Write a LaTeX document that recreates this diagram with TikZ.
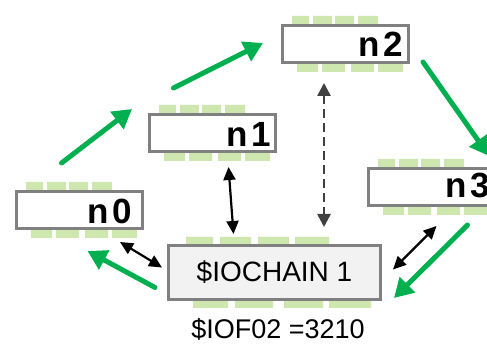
\documentclass[tikz,border=0pt]{standalone}
\usepackage{fontspec}
\setmainfont{Liberation Sans}
\usepackage{tikz}
\usetikzlibrary{arrows.meta}
\definecolor{flowgreen}{HTML}{00B050}
\definecolor{pingreen}{HTML}{CDE7AE}
\definecolor{boxgray}{HTML}{808080}
\definecolor{linkgray}{HTML}{404040}
\definecolor{chainfill}{HTML}{F2F2F2}

\begin{document}
\begin{tikzpicture}[x=1pt,y=-1pt,
  pin/.style={fill=pingreen},
  nodebox/.style={draw=boxgray,line width=2.6pt,fill=white,minimum width=126.4pt,minimum height=37.4pt,inner sep=0pt,anchor=north west},
  chainbox/.style={draw=boxgray,line width=2.6pt,fill=chainfill,minimum width=212.4pt,minimum height=54.4pt,inner sep=0pt,anchor=north west,font=\fontsize{28}{30}\selectfont},
  numlbl/.style={anchor=base west,inner sep=0pt,font=\fontsize{35}{38}\selectfont\bfseries},
  flow/.style={flowgreen,line width=5pt,line cap=round,-{Triangle[length=19pt,width=21pt]}},
  link/.style={black,line width=2.2pt,{Triangle[length=13pt,width=12pt]}-{Triangle[length=13pt,width=12pt]}},
  dlink/.style={linkgray,line width=2.6pt,dash pattern=on 9pt off 5pt,{Triangle[length=13pt,width=13pt]}-{Triangle[length=13pt,width=13pt]}}]
\useasboundingbox (0,0) rectangle (487,344);
\fill[pin] (26,182) rectangle (43,190) (47,182) rectangle (66,190) (69,182) rectangle (88,190) (92,182) rectangle (112,190);
\fill[pin] (31,230) rectangle (52,238) (56,230) rectangle (79,238) (85,230) rectangle (108,238) (112,230) rectangle (137,238);
\fill[pin] (159,105) rectangle (176,113) (180,105) rectangle (199,113) (202,105) rectangle (221,113) (225,105) rectangle (245,113);
\fill[pin] (164,153) rectangle (185,161) (189,153) rectangle (212,161) (218,153) rectangle (241,161) (245,153) rectangle (270,161);
\fill[pin] (292,16) rectangle (309,24) (313,16) rectangle (332,24) (335,16) rectangle (354,24) (358,16) rectangle (378,24);
\fill[pin] (297,64) rectangle (318,72) (322,64) rectangle (345,72) (351,64) rectangle (374,72) (378,64) rectangle (403,72);
\fill[pin] (378,159) rectangle (395,167) (399,159) rectangle (418,167) (421,159) rectangle (440,167) (444,159) rectangle (464,167);
\fill[pin] (383,207) rectangle (404,215) (408,207) rectangle (431,215) (437,207) rectangle (460,215) (464,207) rectangle (489,215);
\fill[pin] (186,237) rectangle (213,244) (220,237) rectangle (251,244) (258,237) rectangle (289,244) (295,237) rectangle (329,244);
\fill[pin] (193,301) rectangle (228,308) (235,301) rectangle (273,308) (284,301) rectangle (323,308) (329,301) rectangle (371,308);
\node[nodebox] (n0) at (15,190) {};
\node[nodebox] (n1) at (148,113) {};
\node[nodebox] (n2) at (281,24) {};
\node[nodebox] (n3) at (367,167) {};
\node[chainbox] (chain) at (167,244) {\$IOCHAIN 1};
\node[numlbl] (n0lbl) at (87,224) {n\kern4pt0};
\node[numlbl] (n1lbl) at (226,147) {n\kern4pt1};
\node[numlbl] (n2lbl) at (358,57) {n\kern4pt2};
\node[numlbl] (n3lbl) at (445,198) {n\kern4pt3};
\node[anchor=base,inner sep=0pt,font=\fontsize{27}{30}\selectfont] (ioflbl) at (278,338) {\$IOF02 =3210};
\draw[flow] ([xshift=-18pt,yshift=27pt]n0.north) -- ([xshift=-16pt,yshift=24pt]n1.west);
\draw[flow] ([xshift=-39pt,yshift=25pt]n1.north) -- ([xshift=-18pt,yshift=1pt]n2.west);
\draw[flow] ([xshift=13pt,yshift=-18pt]n2.east) -- ([xshift=-7pt,yshift=11pt]n3.north east);
\draw[flow] ([xshift=36pt,yshift=-18pt]n3.south) -- ([xshift=12pt,yshift=3pt]chain.south east);
\draw[flow] ([xshift=-12pt,yshift=-15pt]chain.west) -- ([xshift=8pt,yshift=-21pt]n0.south);
\draw[link] ([xshift=-24pt,yshift=-12pt]n0.south east) -- ([xshift=-5pt,yshift=5pt]chain.west);
\draw[link] ([xshift=16pt,yshift=-14pt]n1.south) -- ([xshift=-41pt,yshift=10pt]chain.north);
\draw[link] ([xshift=5pt,yshift=-19pt]n3.south) -- ([xshift=11pt,yshift=3pt]chain.east);
\draw[dlink] ([xshift=-21.5pt,yshift=-19pt]n2.south) -- ([xshift=49.5pt,yshift=17pt]chain.north);
\end{tikzpicture}
\end{document}
